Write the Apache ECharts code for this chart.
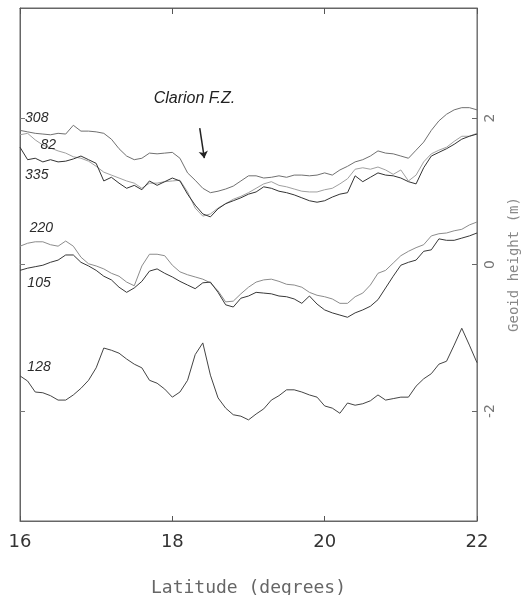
<!DOCTYPE html>
<html>
<head>
<meta charset="utf-8">
<script src="https://cdn.jsdelivr.net/npm/echarts@6/dist/echarts.min.js"></script>
<style>
html,body{margin:0;padding:0;background:#fff;}
#chart{width:521px;height:595px;}
</style>
</head>
<body>
<div id="chart"></div>
<script>
// latitude steps (degrees)
var lat = [16.0,16.1,16.2,16.3,16.4,16.5,16.6,16.7,16.8,16.9,
  17.0,17.1,17.2,17.3,17.4,17.5,17.6,17.7,17.8,17.9,
  18.0,18.1,18.2,18.3,18.4,18.5,18.6,18.7,18.8,18.9,
  19.0,19.1,19.2,19.3,19.4,19.5,19.6,19.7,19.8,19.9,
  20.0,20.1,20.2,20.3,20.4,20.5,20.6,20.7,20.8,20.9,
  21.0,21.1,21.2,21.3,21.4,21.5,21.6,21.7,21.8,21.9,22.0];

// geoid height profiles (m), offset per track
var p308 = [1.83,1.81,1.79,1.78,1.77,1.79,1.78,1.90,1.82,1.82,
  1.81,1.79,1.71,1.58,1.48,1.43,1.45,1.52,1.51,1.52,
  1.53,1.45,1.25,1.15,1.04,0.98,1.00,1.03,1.07,1.14,
  1.21,1.21,1.18,1.19,1.21,1.19,1.22,1.22,1.21,1.22,
  1.25,1.22,1.29,1.34,1.40,1.43,1.48,1.55,1.52,1.51,
  1.48,1.45,1.56,1.67,1.83,1.96,2.05,2.11,2.14,2.14,2.11];
var p82 = [1.77,1.79,1.70,1.63,1.59,1.55,1.52,1.47,1.45,1.41,
  1.34,1.26,1.22,1.18,1.14,1.11,1.04,1.11,1.11,1.13,
  1.14,1.15,0.99,0.77,0.66,0.69,0.77,0.83,0.89,0.93,
  0.98,1.04,1.10,1.13,1.08,1.06,1.03,1.00,0.99,0.99,
  1.02,1.04,1.10,1.17,1.30,1.32,1.30,1.33,1.29,1.23,
  1.29,1.14,1.22,1.40,1.51,1.56,1.60,1.68,1.75,1.75,1.79];
var p335 = [1.60,1.43,1.45,1.40,1.43,1.40,1.41,1.44,1.48,1.43,
  1.38,1.14,1.19,1.11,1.04,1.08,1.02,1.14,1.08,1.13,
  1.18,1.14,0.96,0.81,0.69,0.65,0.76,0.83,0.87,0.91,
  0.96,0.99,1.06,1.04,1.00,0.98,0.95,0.91,0.87,0.85,
  0.87,0.92,0.96,0.98,1.21,1.13,1.19,1.25,1.22,1.21,
  1.18,1.13,1.10,1.32,1.48,1.53,1.58,1.64,1.71,1.75,1.78];
var p220 = [0.25,0.29,0.31,0.31,0.27,0.25,0.32,0.25,0.10,0.01,
  -0.02,-0.06,-0.12,-0.16,-0.24,-0.29,-0.02,0.14,0.14,0.12,
  -0.01,-0.10,-0.14,-0.17,-0.20,-0.25,-0.36,-0.51,-0.50,-0.40,
  -0.31,-0.24,-0.21,-0.20,-0.23,-0.27,-0.28,-0.31,-0.38,-0.42,
  -0.44,-0.47,-0.53,-0.53,-0.44,-0.39,-0.28,-0.12,-0.08,0.02,
  0.12,0.18,0.23,0.27,0.39,0.42,0.43,0.46,0.48,0.54,0.58];
var p105 = [-0.08,-0.05,-0.03,-0.01,0.03,0.06,0.13,0.13,0.03,-0.02,
  -0.08,-0.16,-0.21,-0.31,-0.38,-0.32,-0.23,-0.09,-0.06,-0.12,
  -0.17,-0.23,-0.28,-0.33,-0.25,-0.24,-0.38,-0.55,-0.58,-0.46,
  -0.43,-0.38,-0.39,-0.40,-0.43,-0.44,-0.47,-0.53,-0.43,-0.54,
  -0.62,-0.66,-0.69,-0.72,-0.66,-0.62,-0.57,-0.48,-0.32,-0.16,
  -0.01,0.03,0.06,0.18,0.20,0.35,0.33,0.33,0.36,0.39,0.43];
var p128 = [-1.52,-1.59,-1.74,-1.75,-1.79,-1.85,-1.85,-1.78,-1.69,-1.58,
  -1.41,-1.14,-1.17,-1.21,-1.29,-1.36,-1.41,-1.58,-1.62,-1.70,
  -1.81,-1.74,-1.58,-1.23,-1.07,-1.51,-1.82,-1.96,-2.05,-2.07,
  -2.12,-2.04,-1.97,-1.85,-1.79,-1.71,-1.71,-1.74,-1.78,-1.81,
  -1.93,-1.96,-2.03,-1.89,-1.92,-1.90,-1.86,-1.78,-1.85,-1.83,
  -1.81,-1.81,-1.66,-1.56,-1.49,-1.36,-1.32,-1.10,-0.87,-1.10,-1.34];

var tracks = ['308','82','335','220','105','128'];
var profiles = [p308,p82,p335,p220,p105,p128];
var colors = ['#707070','#a0a0a0','#333333','#8c8c8c','#383838','#444444'];
// where the track numbers sit [lat, m]
var tagPos = [[16.22,2.00],[16.37,1.63],[16.22,1.22],[16.28,0.50],[16.25,-0.25],[16.25,-1.40]];
var yTicks = [-2,0,2];

var chart = echarts.init(document.getElementById('chart'));

var series = tracks.map(function(name, i){
  var s = {
    name: name,
    type: 'line',
    data: lat.map(function(x, j){ return [x, profiles[i][j]]; }),
    showSymbol: false,
    symbol: 'none',
    lineStyle: { width: 1, color: colors[i] },
    silent: true,
    markPoint: {
      symbol: 'circle',
      symbolSize: 0,
      silent: true,
      label: {
        show: true,
        position: 'inside',
        formatter: name,
        fontFamily: 'Liberation Sans',
        fontStyle: 'italic',
        fontSize: 14,
        color: '#2a2a2a'
      },
      data: [{ coord: tagPos[i] }]
    }
  };
  if(name === '308'){
    s.markPoint.data.push({
      coord: [18.29, 2.27],
      label: { formatter: 'Clarion F.Z.', fontSize: 16, fontStyle: 'italic', color: '#222' }
    });
    // arrow pointing at the fracture zone
    s.markLine = {
      silent: true,
      symbol: ['none', 'arrow'],
      symbolSize: 7,
      label: { show: false },
      lineStyle: { color: '#222', width: 1.5, type: 'solid' },
      data: [[{ coord: [18.36, 1.86] }, { coord: [18.42, 1.45] }]]
    };
  }
  return s;
});

var option = {
  backgroundColor: '#fff',
  animation: false,
  grid: { left: 20, right: 44, top: 8, bottom: 74, show: true, borderColor: '#666', borderWidth: 1, outerBoundsMode: 'none', containLabel: false },
  xAxis: [{
    type: 'value', min: 16, max: 22, interval: 2, position: 'bottom',
    name: 'Latitude (degrees)', nameLocation: 'middle', nameGap: 58,
    nameTextStyle: { fontFamily: 'DejaVu Sans Mono', fontSize: 18, color: '#666' },
    axisLine: { show: true, onZero: false, lineStyle: { color: '#666' } },
    axisTick: { show: true, inside: true, length: 5, lineStyle: { color: '#555' } },
    axisLabel: { fontFamily: 'DejaVu Sans', fontSize: 18, color: '#333', margin: 12 },
    splitLine: { show: false }
  }, {
    type: 'value', min: 16, max: 22, interval: 2, position: 'top',
    axisLine: { show: true, onZero: false, lineStyle: { color: '#666' } },
    axisTick: { show: true, inside: true, length: 6, lineStyle: { color: '#555' } },
    axisLabel: { show: false },
    splitLine: { show: false }
  }],
  yAxis: [{
    type: 'value', min: -3.5, max: 3.5, position: 'right',
    name: 'Geoid height (m)', nameLocation: 'middle', nameGap: 30, nameRotate: 90,
    nameTextStyle: { fontFamily: 'DejaVu Sans Mono', fontSize: 14, color: '#888' },
    axisLine: { show: true, onZero: false, lineStyle: { color: '#777' } },
    axisTick: { show: true, inside: true, length: 5, customValues: yTicks, lineStyle: { color: '#666' } },
    axisLabel: { show: true, rotate: 90, customValues: yTicks, fontFamily: 'DejaVu Sans', fontSize: 14, color: '#777', margin: 6 },
    splitLine: { show: false }
  }, {
    type: 'value', min: -3.5, max: 3.5, position: 'left',
    axisLine: { show: true, onZero: false, lineStyle: { color: '#666' } },
    axisTick: { show: true, inside: true, length: 5, customValues: yTicks, lineStyle: { color: '#777' } },
    axisLabel: { show: false },
    splitLine: { show: false }
  }],
  series: series
};

chart.setOption(option);
</script>
</body>
</html>
